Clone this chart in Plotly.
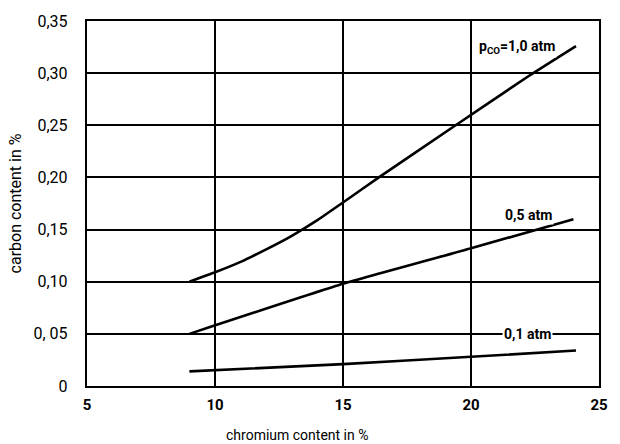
import plotly.graph_objects as go

# chromium content (%) and carbon content (%) per CO pressure
cr_10 = [9.0, 10.0, 11.0, 12.0, 13.0, 14.0, 15.0, 16.4, 19.4, 22.3, 24.1]
c_10 = [0.100, 0.109, 0.119, 0.131, 0.144, 0.159, 0.176, 0.200, 0.250, 0.298, 0.326]

cr_05 = [9.0, 15.0, 20.0, 24.0]
c_05 = [0.050, 0.098, 0.132, 0.160]

cr_01 = [9.0, 15.0, 20.0, 24.1]
c_01 = [0.014, 0.021, 0.028, 0.034]

series_labels = ["p<sub>CO</sub>=1,0 atm", "0,5 atm", "0,1 atm"]
label_pos = [(21.8, 0.325), (22.25, 0.164), (22.2, 0.05)]

x_ticks = [5, 10, 15, 20, 25]
y_ticks = [0, 0.05, 0.10, 0.15, 0.20, 0.25, 0.30, 0.35]
y_ticklabels = ["0", "0, 05", "0,10", "0,15", "0,20", "0,25", "0,30", "0,35"]

FONT = "Roboto, DejaVu Sans, sans-serif"

fig = go.Figure()
for xs, ys in [(cr_10, c_10), (cr_05, c_05), (cr_01, c_01)]:
    fig.add_trace(go.Scatter(x=xs, y=ys, mode="lines",
                             line=dict(color="black", width=2.6, shape="spline", smoothing=0.4),
                             showlegend=False, hoverinfo="skip"))

for txt, (lx, ly) in zip(series_labels, label_pos):
    fig.add_annotation(x=lx, y=ly, text="<b>" + txt + "</b>", showarrow=False,
                       font=dict(family=FONT, size=14, color="black"),
                       bgcolor="white", borderpad=1)

fig.add_annotation(x=0.41, y=-0.134, xref="paper", yref="paper", xanchor="center",
                   yanchor="middle", text="chromium content in %", showarrow=False,
                   font=dict(family=FONT, size=14, color="black"))

fig.update_xaxes(range=[5, 25], tickvals=x_ticks, ticktext=["<b>%d</b>" % v for v in x_ticks],
                 showgrid=True, gridcolor="black", gridwidth=1.6,
                 showline=True, linecolor="black", linewidth=2.4, mirror=True,
                 zeroline=False, ticks="outside", ticklen=4, tickcolor="rgba(0,0,0,0)",
                 tickfont=dict(family=FONT, size=15, color="black"))
fig.update_yaxes(range=[0, 0.35], tickvals=y_ticks, ticktext=y_ticklabels,
                 showgrid=True, gridcolor="black", gridwidth=1.6,
                 showline=True, linecolor="black", linewidth=2.4, mirror=True,
                 zeroline=False, ticks="outside", ticklen=14, tickcolor="rgba(0,0,0,0)",
                 tickfont=dict(family=FONT, size=16, color="black"),
                 title=dict(text="carbon content in %", standoff=8,
                            font=dict(family=FONT, size=16, color="black")))

fig.update_layout(width=620, height=444,
                  margin=dict(l=87, r=13, t=21, b=58),
                  paper_bgcolor="white", plot_bgcolor="white")

fig.write_html("out.html")
